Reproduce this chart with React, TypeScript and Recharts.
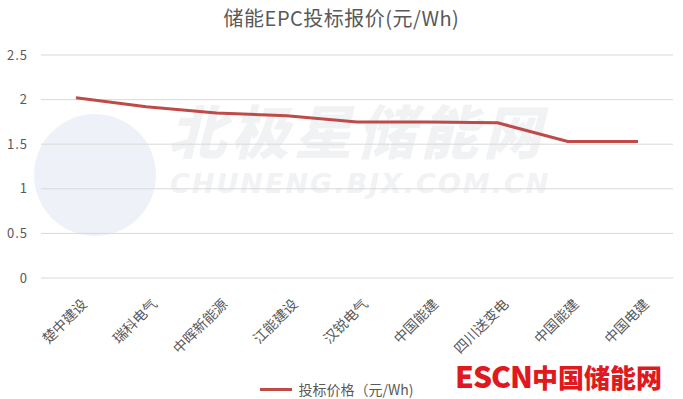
import React from 'react';
import { LineChart, Line, XAxis, YAxis, CartesianGrid, Legend } from 'recharts';

const companies = ['楚中建设', '瑞科电气', '中晖新能源', '江能建设', '汉锐电气', '中国能建', '四川送变电', '中国能建', '中国电建'];
const bidPrices = [2.02, 1.92, 1.85, 1.82, 1.75, 1.75, 1.74, 1.53, 1.53];
const yTicks = [0, 0.5, 1, 1.5, 2, 2.5];
const seriesName = '投标价格（元/Wh)';
const chartTitle = '储能EPC投标报价(元/Wh)';

const data = companies.map((name, i) => ({ key: `${name}-${i}`, name, price: bidPrices[i] }));

const LINE_COLOR = '#BE4B48';
const TEXT_COLOR = '#595959';
const FONT = '"Noto Sans CJK SC", "Noto Sans", sans-serif';

function RotatedTick({ x, y, payload }: any) {
  const label = companies[payload.index] ?? payload.value;
  const ax = x + 12;
  const ay = y + 19;
  return (
    <text x={ax} y={ay} textAnchor="end" fill={TEXT_COLOR} fontSize={14} fontFamily={FONT} transform={`rotate(-45, ${ax}, ${ay})`}>
      {label}
    </text>
  );
}

function LegendContent() {
  return (
    <div style={{ display: 'flex', alignItems: 'center', justifyContent: 'center', gap: 6, fontFamily: FONT, fontSize: 14, color: TEXT_COLOR }}>
      <span style={{ display: 'inline-block', width: 32, height: 3, background: LINE_COLOR }} />
      <span>{seriesName}</span>
    </div>
  );
}

export default function App() {
  return (
    <div style={{ position: 'absolute', left: 0, top: 0, width: 683, height: 399, background: '#fff' }}>
      {/* watermark */}
      <div style={{ position: 'absolute', left: 34, top: 114, width: 122, height: 122, borderRadius: '50%', background: '#EEF2F8' }} />
      <div style={{ position: 'absolute', left: 168, top: 100, lineHeight: 1, fontFamily: FONT, fontWeight: 900, fontStyle: 'italic', fontSize: 58, letterSpacing: 5, color: '#F1F2F4', whiteSpace: 'nowrap' }}>
        北极星储能网
      </div>
      <div style={{ position: 'absolute', left: 170, top: 170, lineHeight: 1, fontFamily: '"DejaVu Sans", sans-serif', fontWeight: 700, fontStyle: 'italic', fontSize: 27, letterSpacing: 2, color: '#F1F2F4', whiteSpace: 'nowrap' }}>
        CHUNENG.BJX.COM.CN
      </div>

      <div style={{ position: 'absolute', left: 0, top: 3, width: 683, textAlign: 'center', fontFamily: FONT, fontSize: 20, letterSpacing: 0.5, color: TEXT_COLOR }}>
        {chartTitle}
      </div>

      <div style={{ position: 'absolute', left: 0, top: 0 }}>
        <LineChart width={683} height={399} data={data} margin={{ top: 55, right: 10, bottom: 0, left: 0 }}>
          <CartesianGrid vertical={false} stroke="#D9D9D9" />
          <XAxis
            dataKey="key"
            axisLine={false}
            tickLine={false}
            interval={0}
            height={101}
            padding={{ left: 35, right: 35 }}
            tick={<RotatedTick />}
          />
          <YAxis
            width={41}
            domain={[0, 2.5]}
            ticks={yTicks}
            axisLine={false}
            tickLine={false}
            tickMargin={7}
            tick={{ fill: TEXT_COLOR, fontSize: 13, fontFamily: FONT, letterSpacing: 1 }}
          />
          <Legend verticalAlign="bottom" content={<LegendContent />} wrapperStyle={{ left: 187, width: 300 }} />
          <Line
            type="linear"
            dataKey="price"
            name={seriesName}
            stroke={LINE_COLOR}
            strokeWidth={3}
            dot={false}
            isAnimationActive={false}
          />
        </LineChart>
      </div>

      <div style={{ position: 'absolute', left: 455, top: 360, lineHeight: 1, fontFamily: '"Liberation Sans Narrow", "Noto Sans CJK SC", sans-serif', fontWeight: 900, fontSize: 30, color: '#E0191E', whiteSpace: 'nowrap', letterSpacing: -1 }}>
        ESCN<span style={{ fontFamily: FONT, fontSize: 26, letterSpacing: 0 }}>中国储能网</span>
      </div>
    </div>
  );
}
